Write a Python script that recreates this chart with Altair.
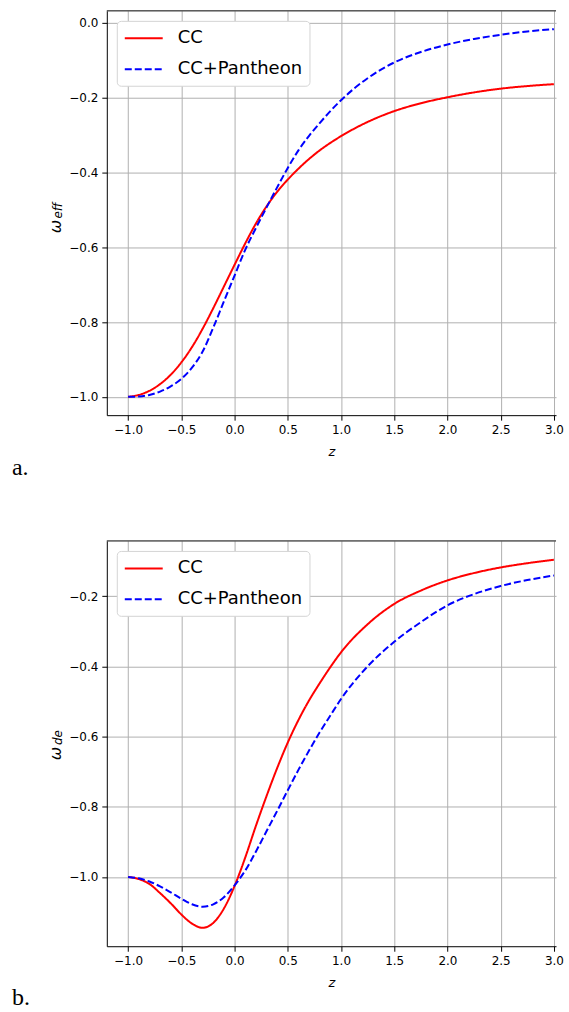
import altair as alt
import pandas as pd

series = ["CC", "CC+Pantheon"]
x_ticks = [-1.0, -0.5, 0.0, 0.5, 1.0, 1.5, 2.0, 2.5, 3.0]
y_ticks_a = [-1.0, -0.8, -0.6, -0.4, -0.2, 0.0]
y_ticks_b = [-1.0, -0.8, -0.6, -0.4, -0.2]

z_vals = [-1.0, -0.9, -0.8, -0.7, -0.6, -0.5, -0.4, -0.3, -0.2, -0.1, 0.0,
          0.1, 0.2, 0.3, 0.4, 0.5, 0.6, 0.7, 0.8, 0.9, 1.0, 1.25, 1.5, 1.75, 2.0,
          2.25, 2.5, 2.75, 3.0]

# panel a: omega_eff
w_eff_cc = [-1.000, -0.995, -0.984, -0.966, -0.941, -0.908, -0.867, -0.818,
            -0.763, -0.705, -0.647, -0.590, -0.537, -0.491, -0.452, -0.419,
            -0.390, -0.364, -0.341, -0.321, -0.303, -0.265, -0.236, -0.215,
            -0.199, -0.186, -0.176, -0.169, -0.164]
w_eff_ccp = [-1.000, -0.999, -0.995, -0.986, -0.972, -0.952, -0.922, -0.879,
             -0.815, -0.745, -0.676, -0.607, -0.549, -0.494, -0.440, -0.388,
             -0.341, -0.302, -0.268, -0.236, -0.207, -0.148, -0.106, -0.078,
             -0.058, -0.043, -0.032, -0.023, -0.017]

# panel b: omega_de
w_de_cc = [-1.000, -1.006, -1.020, -1.046, -1.075, -1.107, -1.133, -1.145,
           -1.131, -1.090, -1.026, -0.945, -0.855, -0.770, -0.690, -0.617,
           -0.553, -0.497, -0.448, -0.402, -0.360, -0.280, -0.222, -0.184,
           -0.155, -0.134, -0.118, -0.106, -0.096]
w_de_ccp = [-1.000, -1.004, -1.013, -1.027, -1.044, -1.062, -1.078, -1.085,
            -1.078, -1.058, -1.024, -0.982, -0.928, -0.870, -0.812, -0.753,
            -0.695, -0.640, -0.588, -0.540, -0.493, -0.400, -0.330, -0.274,
            -0.226, -0.194, -0.171, -0.154, -0.141]

W = 450
H_A = 405
H_B = 406


def long_df(a, b):
    return pd.DataFrame({
        "z": z_vals + z_vals,
        "w": a + b,
        "series": [series[0]] * len(z_vals) + [series[1]] * len(z_vals),
    })


def panel(df, ydom, yticks, sub, letter, height, sub_y):
    leg = alt.Legend(orient="none", legendX=10, legendY=10, title=None,
                     fillColor="white", strokeColor="#d4d4d4", cornerRadius=4,
                     padding=7, labelFontSize=18, labelFont="DejaVu Sans",
                     labelColor="black", symbolSize=361, symbolStrokeWidth=2,
                     symbolType="M-1,0H3", labelOffset=33, rowPadding=11)
    x = alt.X("z:Q", scale=alt.Scale(domain=[-1.2, 3.02], nice=False, zero=False),
              axis=alt.Axis(values=x_ticks, format=".1f", title="z",
                            titleFontStyle="italic", titleFontWeight="normal",
                            titleFontSize=13, titlePadding=10))
    y = alt.Y("w:Q", scale=alt.Scale(domain=ydom, nice=False, zero=False),
              axis=alt.Axis(values=yticks, format=".1f", title=None))
    lines = alt.Chart(df).mark_line(strokeWidth=2, clip=True, interpolate="monotone").encode(
        x=x, y=y,
        color=alt.Color("series:N", scale=alt.Scale(domain=series, range=["#ff0000", "#0000ff"]), legend=leg),
        strokeDash=alt.StrokeDash("series:N", scale=alt.Scale(domain=series, range=[[1, 0], [7, 3]]), legend=leg),
    )
    top_spine = alt.Chart(pd.DataFrame({"k": [0]})).mark_rule(color="black", strokeWidth=1).encode(
        x=alt.value(0), x2=alt.value(W), y=alt.value(0))
    omega = alt.Chart(pd.DataFrame({"t": ["ω"]})).mark_text(
        angle=270, fontSize=16, fontStyle="italic", font="DejaVu Sans", align="center",
        baseline="middle", color="black").encode(text="t:N", x=alt.value(-51), y=alt.value(sub_y + 10))
    subs = alt.Chart(pd.DataFrame({"t": [sub]})).mark_text(
        angle=270, fontSize=12, fontStyle="italic", font="DejaVu Sans", align="center",
        baseline="middle", color="black").encode(text="t:N", x=alt.value(-49), y=alt.value(sub_y - 6))
    lab = alt.Chart(pd.DataFrame({"t": [letter]})).mark_text(
        fontSize=24, font="Liberation Serif", align="left", baseline="alphabetic",
        color="black").encode(text="t:N", x=alt.value(-95), y=alt.value(465))
    return alt.layer(top_spine, lines, omega, subs, lab).properties(width=W, height=height)


pa = panel(long_df(w_eff_cc, w_eff_ccp), [-1.049, 0.032], y_ticks_a, "eff", "a.", H_A, 206)
pb = panel(long_df(w_de_cc, w_de_ccp), [-1.1975, -0.0425], y_ticks_b, "de", "b.", H_B, 203)

chart = alt.vconcat(pa, pb, spacing=126, bounds="flush").resolve_scale(
    color="independent", strokeDash="independent", y="independent"
).resolve_legend(color="independent", strokeDash="independent").properties(
    padding={"left": 12, "top": 9, "right": 5, "bottom": 5}
).configure_view(stroke=None).configure_axis(
    labelFont="DejaVu Sans", labelFontSize=12, labelColor="black",
    titleFont="DejaVu Sans", titleColor="black",
    tickColor="black", tickSize=5, tickWidth=1, labelPadding=4,
    domainColor="black", domainWidth=1,
    gridColor="#b0b0b0", gridWidth=1, gridOpacity=1,
)

chart.save("out.html", embed_options={"renderer": "svg", "actions": False})
